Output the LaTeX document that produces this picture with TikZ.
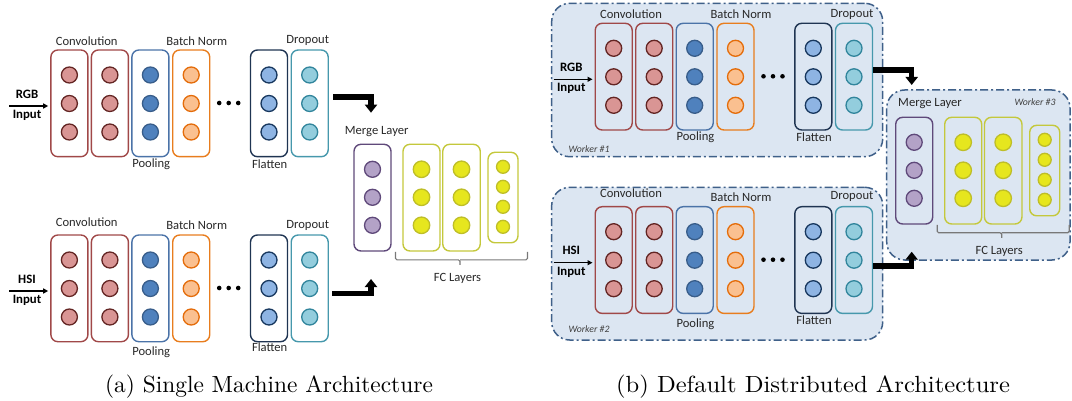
\documentclass[tikz,border=0pt]{standalone}
\usepackage{fontspec}
\newfontfamily\lblfont{Carlito}
\usetikzlibrary{arrows.meta,calc}

% layer colours: box outline (B), unit fill (F), unit outline (D)
\definecolor{convB}{RGB}{160,72,72}
\definecolor{convF}{RGB}{217,149,148}
\definecolor{convD}{RGB}{99,37,35}
\definecolor{poolB}{RGB}{75,115,168}
\definecolor{poolF}{RGB}{79,129,189}
\definecolor{poolD}{RGB}{56,93,138}
\definecolor{bnB}{RGB}{232,125,30}
\definecolor{bnF}{RGB}{250,192,144}
\definecolor{bnD}{RGB}{228,108,10}
\definecolor{flatB}{RGB}{31,52,82}
\definecolor{flatF}{RGB}{142,180,227}
\definecolor{flatD}{RGB}{23,55,94}
\definecolor{dropB}{RGB}{70,152,172}
\definecolor{dropF}{RGB}{147,205,221}
\definecolor{dropD}{RGB}{49,133,156}
\definecolor{mergeB}{RGB}{95,73,122}
\definecolor{mergeF}{RGB}{179,162,199}
\definecolor{mergeD}{RGB}{95,73,122}
\definecolor{fcB}{RGB}{196,200,60}
\definecolor{fcF}{RGB}{230,230,30}
\definecolor{fcD}{RGB}{190,190,40}
\definecolor{wfill}{RGB}{220,230,242}
\definecolor{wline}{RGB}{63,96,137}
\definecolor{lblgray}{RGB}{40,40,40}
\definecolor{wgray}{RGB}{64,64,64}
\definecolor{braceGray}{RGB}{120,120,120}

\tikzset{
  colbox/.style={rectangle, rounded corners=7pt, minimum width=37pt,
    minimum height=106.7pt, line width=1.4pt, inner sep=0pt},
  unit/.style={circle, minimum size=16pt, inner sep=0pt, line width=1.3pt},
  lbl/.style={font=\lblfont\fontsize{12.6}{14}\selectfont, text=lblgray, inner sep=0pt},
  inlbl/.style={font=\lblfont\bfseries\fontsize{12.8}{14}\selectfont, inner sep=0pt},
  wlbl/.style={font=\lblfont\itshape\fontsize{9.8}{11}\selectfont, text=wgray, inner sep=0pt},
  worker/.style={rectangle, rounded corners=18pt, fill=wfill, draw=wline,
    line width=1.5pt, dash pattern=on 8pt off 3pt on 2pt off 3pt},
  feed/.style={line width=1.3pt, -{Triangle[length=5pt,width=5pt]}, shorten >=2pt},
  bigarrow/.style={line width=5.5pt, -{Triangle[length=8pt,width=12pt]}},
  bracket/.style={draw=braceGray, line width=1.1pt, rounded corners=1.5pt},
  captext/.style={inner sep=0pt},
}

% one CNN branch: #1 prefix, #2 left x, #3 top y, #4 input name,
% #5 Convolution offset, #6 Pooling offset, #7 Flatten offset, #8 top label offset
\newcommand\cnnbranch[8]{%
\begin{scope}[shift={(#2,#3)}]
  \foreach \nm/\cx/\bc/\fc/\dc in {c1/18.7/convB/convF/convD, c2/59.2/convB/convF/convD,
      pl/99.7/poolB/poolF/poolD, bn/140.5/bnB/bnF/bnD,
      fl/218.3/flatB/flatF/flatD, dr/259/dropB/dropF/dropD}{%
    \node[colbox, draw=\bc] (#1\nm) at (\cx,53.35) {};
    \foreach \r [count=\k] in {25,53.5,82}
      \node[unit, fill=\fc, draw=\dc] (#1\nm\k) at (\cx,\r) {};
  }
  \foreach \d in {168.5,178,187.5}
    \fill (\d,53) circle[radius=2.3pt];
  \node[lbl] (#1lconv) at (36,-#5) {Convolution};
  \node[lbl] (#1lbn) at (146,-#8) {Batch Norm};
  \node[lbl] (#1ldrop) at (257,-#8) {Dropout};
  \node[lbl] (#1lpool) at (100.5,106.7+#6) {Pooling};
  \node[lbl] (#1lflat) at (219,106.7+#7) {Flatten};
  \node[inlbl] (#1lname) at (-23.7,44) {#4};
  \node[inlbl] (#1linput) at (-23.7,65.5) {Input};
  \coordinate (#1src) at (-41.5,56);
  \draw[feed] (#1src) -- (#1src -| #1c1.west);
\end{scope}}

% merge + fully connected block: #1 prefix, #2 left x, #3 top y,
% #4/#5 position of the "Merge Layer" label
\newcommand\mergeblock[5]{%
\begin{scope}[shift={(#2,#3)}]
  \node[colbox, draw=mergeB] (#1mg) at (18.5,53.35) {};
  \node[colbox, draw=fcB] (#1fa) at (67.5,53.35) {};
  \node[colbox, draw=fcB, minimum width=37.5pt] (#1fb) at (107.5,53.35) {};
  \node[colbox, draw=fcB, minimum width=30pt, minimum height=90.5pt] (#1fc) at (149,53.25) {};
  \foreach \r [count=\k] in {25,53,81}{%
    \node[unit, fill=mergeF, draw=mergeD] (#1mg\k) at (18.5,\r) {};
    \node[unit, fill=fcF, draw=fcD, minimum size=16.5pt] (#1fa\k) at (67.5,\r) {};
    \node[unit, fill=fcF, draw=fcD, minimum size=16.5pt] (#1fb\k) at (107.5,\r) {};
  }
  \foreach \r [count=\k] in {22.5,42.5,62.5,82.5}
    \node[unit, fill=fcF, draw=fcD, minimum size=13pt] (#1fc\k) at (149,\r) {};
  \node[lbl] (#1lmerge) at (#4,-#5) {Merge Layer};
  \draw[bracket] (41.5,107.5) |- (106,115.5) -- (106,120.5)
               (106,115.5) -| (173.5,107.5);
  \node[lbl] (#1lfc) at (103.5,134) {FC Layers};
\end{scope}}

\begin{document}
\begin{tikzpicture}[x=1pt, y=-1pt]
  \useasboundingbox (0,0) rectangle (1072,401);

  % worker containers of the distributed set-up
  \node[worker, minimum width=331pt, minimum height=153.4pt] (w1) at (717.2,80) {};
  \node[worker, minimum width=331pt, minimum height=152.7pt] (w2) at (717.2,263.65) {};
  \node[worker, minimum width=183.3pt, minimum height=170pt] (w3) at (978.35,175) {};
  \node[wlbl] (w1l) at (589,149.3) {Worker \#1};
  \node[wlbl] (w2l) at (589,329.3) {Worker \#2};
  \node[wlbl] (w3l) at (1035,102.3) {Worker \#3};

  % single machine
  \cnnbranch{a}{50.7}{50}{RGB}{9.3}{7.3}{7.3}{9.3}
  \cnnbranch{b}{50.7}{235}{HSI}{13.3}{10.6}{5.6}{10}
  \mergeblock{m}{354}{144.3}{22.7}{12.6}

  \coordinate (aout) at (333,97);
  \coordinate (min1) at (371,112.7);
  \draw[bigarrow] (aout) -| (min1);
  \coordinate (bout) at (332,293.3);
  \coordinate (min2) at (371,279);
  \draw[bigarrow] (bout) -| (min2);

  % distributed
  \cnnbranch{c}{595}{23.3}{RGB}{9.3}{7.4}{7.4}{9.3}
  \cnnbranch{d}{595}{206.7}{HSI}{13.4}{10.6}{6.3}{10}
  \mergeblock{n}{895.7}{117.3}{34.3}{14}

  \coordinate (cout) at (873,70);
  \coordinate (nin1) at (911.7,85);
  \draw[bigarrow] (cout) -| (nin1);
  \coordinate (dout) at (873,266);
  \coordinate (nin2) at (911.7,251.7);
  \draw[bigarrow] (dout) -| (nin2);

  % captions (10pt design size, enlarged)
  \node[captext, anchor=base] (capa) at (269,392.3)
    {\scalebox{2.34}{(a) Single Machine Architecture}};
  \node[captext, anchor=base] (capb) at (813,392.3)
    {\scalebox{2.46}[2.34]{(b) Default Distributed Architecture}};
\end{tikzpicture}
\end{document}
